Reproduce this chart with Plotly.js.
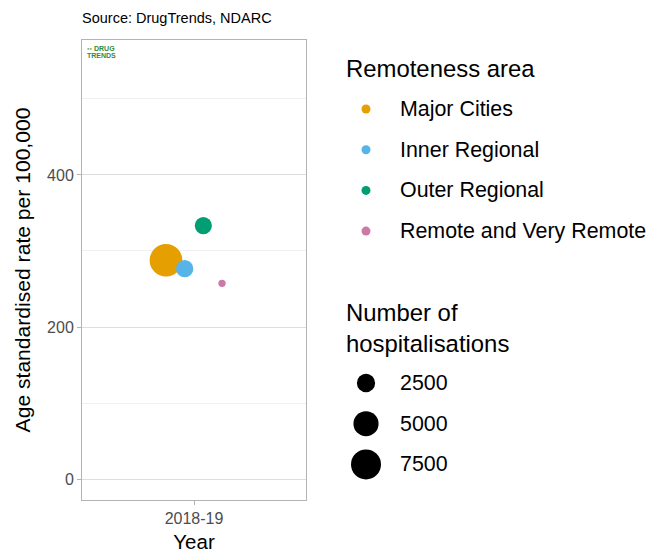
<!DOCTYPE html>
<html>
<head>
<meta charset="utf-8">
<script src="https://cdn.plot.ly/plotly-3.0.1.min.js"></script>
<style>html,body{margin:0;padding:0;background:#fff;}#chart{width:649px;height:553px;}</style>
</head>
<body>
<div id="chart"></div>
<script>
// ---- data ----
const year = "2018-19";
const regions = ["Major Cities", "Inner Regional", "Outer Regional", "Remote and Very Remote"];
const rates = [287.8, 276.8, 333.4, 257.5];
const hospitalisations = [9150, 2250, 2200, 970];
const sizeBreaks = [2500, 5000, 7500];
const yTicks = [0, 200, 400];
const yMinorTicks = [100, 300, 500];
const colors = ["#E69F00", "#56B4E9", "#009E73", "#CC79A7"];

// ---- styling ----
const FONT = "Liberation Sans, Arial, sans-serif";
const W = 649, H = 553;
const plotL = 82, plotR = 306, plotT = 40, plotB = 500;

// ggplot-like area size scale: size 1..6 over data range, diameter in px
const vmin = Math.min(...hospitalisations), vmax = Math.max(...hospitalisations);
function diam(v) {
  const r = Math.max(0, (v - vmin) / (vmax - vmin));
  const s = 1 + 5 * Math.sqrt(r);
  return 2.22 + 5.08 * s;
}

const dodge = 0.4;
const n = regions.length;
const traces = regions.map((reg, i) => ({
  type: "scatter", mode: "markers",
  x: [1 + (i - (n - 1) / 2) * dodge / n],
  y: [rates[i]],
  name: reg,
  marker: { color: colors[i], size: [diam(hospitalisations[i])], line: { width: 0 }, opacity: 1 },
  showlegend: false, hoverinfo: "skip", cliponaxis: false,
  xaxis: "x", yaxis: "y"
}));

// custom legends drawn on an overlay pixel axis
const legX = 366, labX = 400;
const colLegY0 = 109, colLegStep = 40.7;
const sizeLegY0 = 383, sizeLegStep = 40.7;
traces.push({
  type: "scatter", mode: "markers",
  x: regions.map(() => legX),
  y: regions.map((r, i) => colLegY0 + i * colLegStep),
  marker: { color: colors, size: 9, line: { width: 0 }, opacity: 1 },
  showlegend: false, hoverinfo: "skip", xaxis: "x2", yaxis: "y2", cliponaxis: false
});
traces.push({
  type: "scatter", mode: "markers",
  x: sizeBreaks.map(() => legX),
  y: sizeBreaks.map((b, i) => sizeLegY0 + i * sizeLegStep),
  marker: { color: "#000000", size: sizeBreaks.map(diam), line: { width: 0 }, opacity: 1 },
  showlegend: false, hoverinfo: "skip", xaxis: "x2", yaxis: "y2", cliponaxis: false
});

const annotations = [];
function addText(text, x, y, size, color, extra) {
  annotations.push(Object.assign({
    text: text, x: x, y: y, xref: "x2", yref: "y2", showarrow: false,
    xanchor: "left", yanchor: "middle", align: "left",
    font: { family: FONT, size: size, color: color || "#000" }
  }, extra || {}));
}
addText("Source: DrugTrends, NDARC", 80, 18, 14.5, "#000");
addText("Remoteness area", 344, 68, 23.9, "#000");
regions.forEach((r, i) => addText(r, labX - 2, colLegY0 + i * colLegStep, 21.4, "#000"));
addText("Number of<br>hospitalisations", 344, 328, 23.9, "#000");
sizeBreaks.forEach((b, i) => addText(String(b), labX - 2, sizeLegY0 + i * sizeLegStep, 21.4, "#000"));
// small logo
addText("<b>DRUG</b>", 92, 48.5, 7, "#2e8b3a");
addText("<b>TRENDS</b>", 85, 55.5, 7, "#2e8b3a");
addText("<b>●●</b>", 85, 48.5, 4, "#5aa83a");

const layout = {
  width: W, height: H,
  margin: { l: 0, r: 0, t: 0, b: 0, pad: 0 },
  paper_bgcolor: "#ffffff", plot_bgcolor: "rgba(0,0,0,0)",
  showlegend: false,
  font: { family: FONT },
  xaxis: {
    domain: [plotL / W, plotR / W], range: [0.4, 1.6],
    tickmode: "array", tickvals: [1], ticktext: [year],
    ticks: "outside", ticklen: 4, tickcolor: "#b3b3b3", tickwidth: 1,
    showline: true, mirror: true, linecolor: "#b3b3b3", linewidth: 1,
    showgrid: false, zeroline: false, fixedrange: true,
    tickfont: { family: FONT, size: 16, color: "#4d4d4d" },
    title: { text: "Year", font: { family: FONT, size: 20.5, color: "#000" }, standoff: 8 },
    anchor: "y", automargin: false
  },
  yaxis: {
    domain: [1 - plotB / H, 1 - plotT / H], range: [-27.5, 577.5],
    tickmode: "array", tickvals: yTicks, ticktext: yTicks.map(String),
    ticks: "outside", ticklen: 4, tickcolor: "#b3b3b3", tickwidth: 1,
    showline: true, mirror: true, linecolor: "#b3b3b3", linewidth: 1,
    showgrid: true, gridcolor: "#dedede", gridwidth: 1, zeroline: false, fixedrange: true,
    minor: { tickmode: "array", tickvals: yMinorTicks, showgrid: true, gridcolor: "#f0f0f0", gridwidth: 1, ticks: "" },
    tickfont: { family: FONT, size: 16, color: "#4d4d4d" },
    title: { text: "Age standardised rate per 100,000", font: { family: FONT, size: 21.1, color: "#000" }, standoff: 10 },
    anchor: "x", automargin: false
  },
  xaxis2: { domain: [0, 1], range: [0, W], visible: false, fixedrange: true, anchor: "y2" },
  yaxis2: { domain: [0, 1], range: [H, 0], visible: false, fixedrange: true, anchor: "x2" },
  annotations: annotations
};

Plotly.newPlot("chart", traces, layout, { staticPlot: true, displayModeBar: false });
</script>
</body>
</html>
